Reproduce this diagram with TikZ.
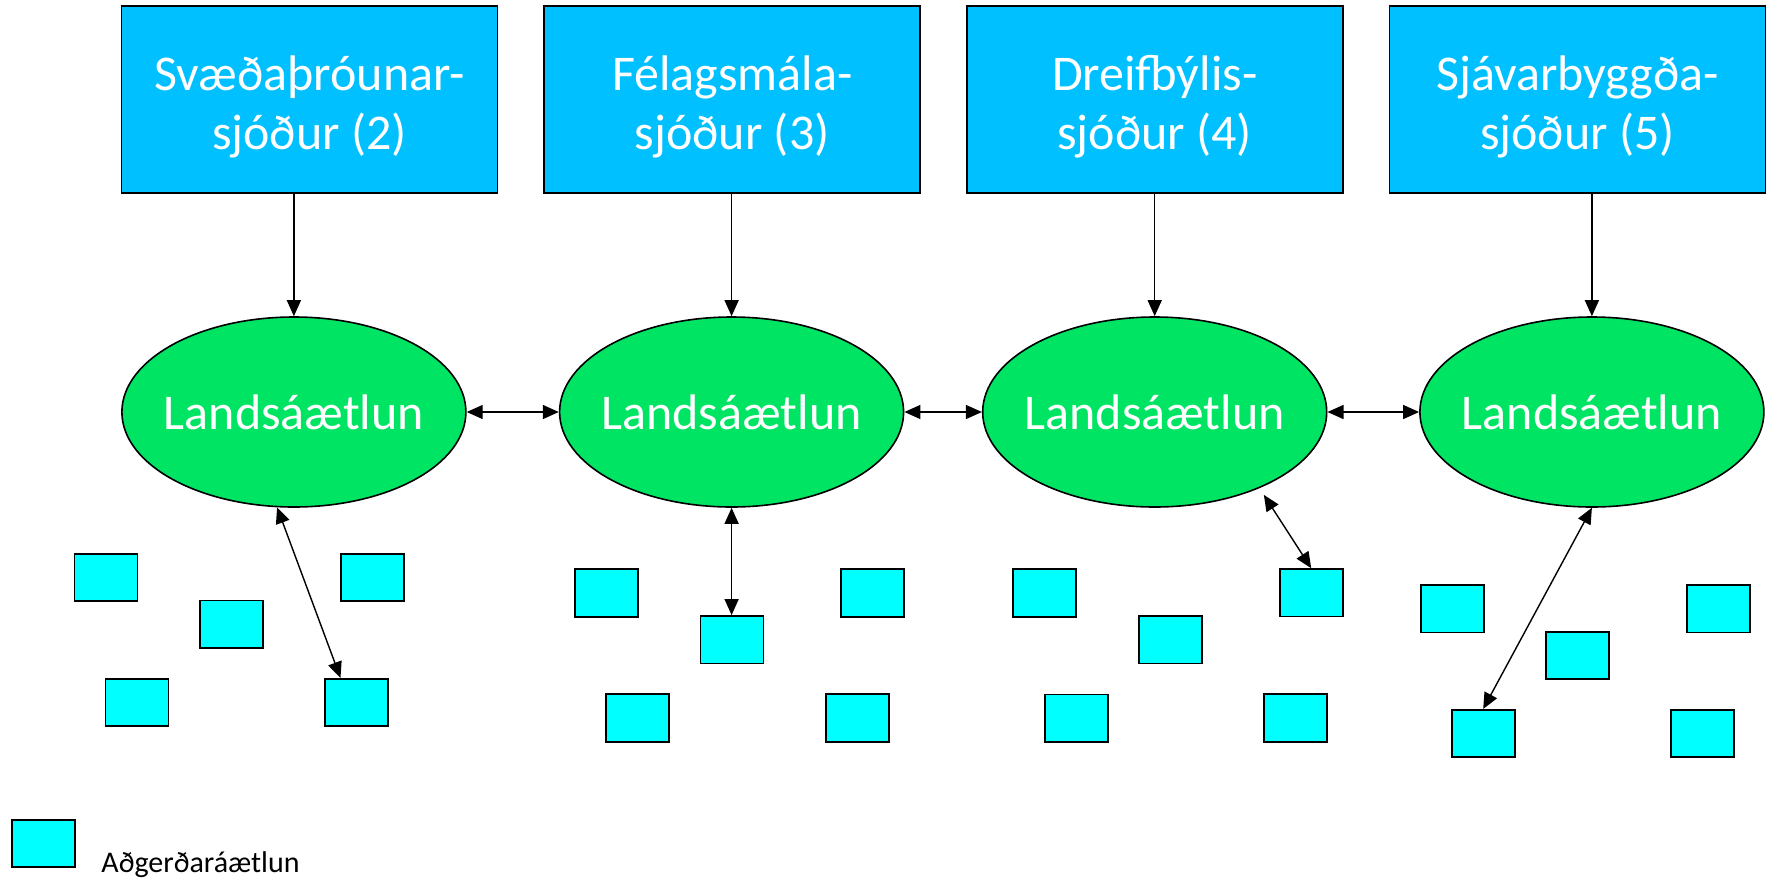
\documentclass[tikz,border=0pt]{standalone}
\usepackage{fontspec}
\setmainfont{Carlito}
\usetikzlibrary{arrows.meta,shapes.geometric,calc}
\definecolor{topblue}{RGB}{0,192,255}
\definecolor{ellgreen}{RGB}{0,228,100}
\definecolor{actcyan}{RGB}{0,255,255}
\newcommand{\plantext}{\makebox[0pt][c]{Landsáætlun}}
\begin{document}
\begin{tikzpicture}[x=0.5pt,y=-0.5pt,
  topbox/.style={draw=black,line width=0.9pt,fill=topblue,minimum width=188pt,minimum height=93.8pt,inner sep=0pt},
  toptext/.style={text=white,font=\fontsize{25}{29.65}\selectfont,align=center,inner sep=0pt},
  plan/.style={ellipse,draw=black,line width=0.8pt,fill=ellgreen,minimum width=172pt,minimum height=95pt,inner sep=0pt,text=white,font=\fontsize{25}{30}\selectfont},
  act/.style={draw=black,line width=0.9pt,fill=actcyan,minimum width=31.5pt,minimum height=23.7pt,inner sep=0pt},
  onearrow/.style={line width=0.7pt,draw=black,-{Triangle[length=8pt,width=7pt]}},
  twoarrow/.style={line width=0.7pt,draw=black,{Triangle[length=8pt,width=7pt]}-{Triangle[length=8pt,width=7pt]}},
  legendtext/.style={anchor=base west,inner sep=0pt,font=\fontsize{15}{18}\selectfont,text=black}
]
\useasboundingbox (0,0) rectangle (1769,880);

% top boxes (funds)
\node[topbox] (t1) at (309.5,99.5) {};
\node[topbox] (t2) at (732.2,99.5) {};
\node[topbox] (t3) at (1154.7,99.5) {};
\node[topbox] (t4) at (1577.5,99.5) {};
\node[toptext] (t1x) at ([yshift=-3.75pt]t1.center) {Svæðaþróunar-\\sjóður (2)};
\node[toptext] (t2x) at ([yshift=-3.75pt]t2.center) {Félagsmála-\\sjóður (3)};
\node[toptext] (t3x) at ([yshift=-3.75pt]t3.center) {Dreifbýlis-\\sjóður (4)};
\node[toptext] (t4x) at ([yshift=-3.75pt]t4.center) {Sjávarbyggða-\\sjóður (5)};

% national plans
\node[plan] (e1) at (293.9,412) {\plantext};
\node[plan] (e2) at (731.6,412) {\plantext};
\node[plan] (e3) at (1154.7,412) {\plantext};
\node[plan] (e4) at (1591.9,412) {\plantext};

% action plans
\node[act] (a11) at (106,577.3) {};
\node[act] (a12) at (231.3,624.2) {};
\node[act] (a13) at (372.2,577.3) {};
\node[act] (a14) at (137,702.5) {};
\node[act] (a15) at (356.7,702.5) {};

\node[act] (a21) at (606.7,593) {};
\node[act] (a22) at (732,639.7) {};
\node[act] (a23) at (872.8,593) {};
\node[act] (a24) at (637.8,718) {};
\node[act] (a25) at (857.2,718) {};

\node[act] (a31) at (1044.7,592.9) {};
\node[act] (a32) at (1170.3,639.8) {};
\node[act] (a33) at (1311.2,592.8) {};
\node[act] (a34) at (1076.3,718.1) {};
\node[act] (a35) at (1295.5,718) {};

\node[act] (a41) at (1452.2,608.7) {};
\node[act] (a42) at (1577.7,655.5) {};
\node[act] (a43) at (1718.3,608.7) {};
\node[act] (a44) at (1483.2,733.5) {};
\node[act] (a45) at (1702.7,733.5) {};

% legend
\node[act] (leg) at (43.2,843.4) {};
\node[legendtext] (legt) at (101,872.7) {Aðgerðaráætlun};

% fund -> plan arrows
\draw[onearrow] (t1.south -| e1.north) -- (e1.north);
\draw[onearrow] (t2.south -| e2.north) -- (e2.north);
\draw[onearrow] (t3.south -| e3.north) -- (e3.north);
\draw[onearrow] (t4.south -| e4.north) -- (e4.north);

% plan <-> plan
\draw[twoarrow] (e1.east) -- (e2.west);
\draw[twoarrow] (e2.east) -- (e3.west);
\draw[twoarrow] (e3.east) -- (e4.west);

% plan <-> action plan
\draw[twoarrow] (e1.260.5) -- ($(a15.north west)!0.25!(a15.north east)$);
\draw[twoarrow] (e2.south) -- (e2.south |- a22.north);
\draw[twoarrow,shorten <=4pt] (e3.324) -- (a33.north);
\draw[twoarrow] (e4.south) -- (a44.north);
\end{tikzpicture}
\end{document}
